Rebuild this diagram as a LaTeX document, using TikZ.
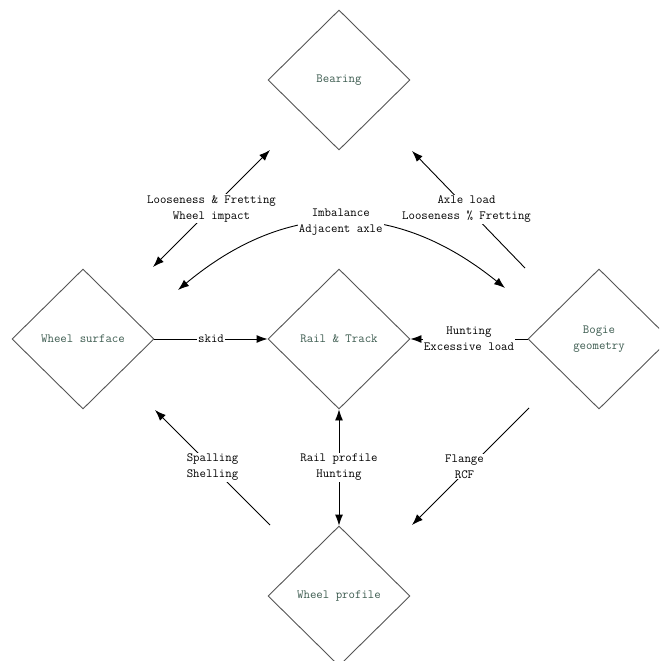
\documentclass[tikz,border=0pt]{standalone}
\usepackage{fontspec}
\usetikzlibrary{arrows.meta,shapes.geometric}
\definecolor{boxtext}{HTML}{3D5C50}
\definecolor{boxline}{HTML}{555555}
\tikzset{
  dia/.style={shape=diamond, draw=boxline, line width=0.9pt, minimum width=142pt, minimum height=140pt, inner sep=0pt, text=boxtext, font=\ttfamily\fontsize{12.5}{16}\selectfont, align=center},
  lbl/.style={fill=white, inner sep=1pt, font=\ttfamily\fontsize{12.5}{16}\selectfont, align=center, text=black},
  conn/.style={line width=0.9pt, black},
  tip/.style={-{Latex[length=11pt,width=8pt]}},
  tips/.style={{Latex[length=11pt,width=8pt]}-{Latex[length=11pt,width=8pt]}},
}
\begin{document}
\begin{tikzpicture}[x=1pt,y=-1pt]
\useasboundingbox (0,0) rectangle (659,661);
\clip (0,0) rectangle (659,661);
\fill[white] (0,0) rectangle (659,661);
% diamonds
\node[dia] (bearing) at (339,80) {Bearing};
\node[dia] (wsurf) at (83,339) {Wheel surface};
\node[dia] (rail) at (339,339) {Rail \& Track};
\node[dia] (bogie) at (599,339) {Bogie\\geometry};
\node[dia] (wprof) at (339,596) {Wheel profile};
% free ends
\coordinate (a1) at (153,267); \coordinate (a2) at (270,150);
\coordinate (b1) at (525,268); \coordinate (b2) at (412,151);
\coordinate (c1) at (178,290); \coordinate (c2) at (505,288);
\coordinate (d1) at (270,525); \coordinate (d2) at (155,410);
\coordinate (e1) at (529,408); \coordinate (e2) at (412,525);
% connectors
\draw[conn,tips] (a1) -- node[lbl]{Looseness \& Fretting\\Wheel impact} (a2);
\draw[conn,tip] (b1) -- node[lbl,xshift=-2pt]{Axle load\\Looseness \% Fretting} (b2);
\draw[conn,tips] (c1) .. controls (286,200) and (395,199) .. node[lbl]{Imbalance\\Adjacent axle} (c2);
\draw[conn,tip] (wsurf.east) -- node[lbl]{skid} (rail.west);
\draw[conn,tip] (bogie.west) -- node[lbl]{Hunting\\Excessive load} (rail.east);
\draw[conn,tip] (d1) -- node[lbl]{Spalling\\Shelling} (d2);
\draw[conn,tips] (rail.south) -- node[lbl]{Rail profile\\Hunting} (wprof.north);
\draw[conn,tip] (e1) -- node[lbl,xshift=-6pt]{Flange\\RCF} (e2);
\end{tikzpicture}
\end{document}
